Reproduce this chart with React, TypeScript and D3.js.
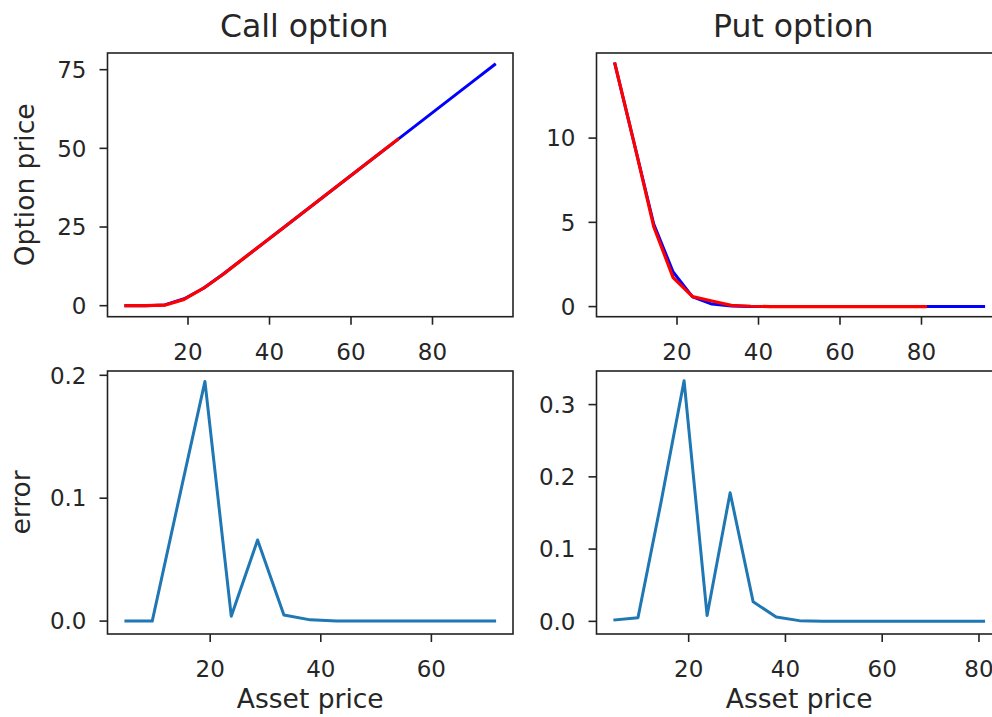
import React, { useEffect, useRef } from "react";
import * as d3 from "d3";

// ---- data ----
const assetPrice = [4.76, 9.52, 14.29, 19.05, 23.81, 28.57, 33.33, 38.1, 42.86, 47.62, 52.38, 57.14, 61.9, 66.67, 71.43, 76.19, 80.95, 85.71, 90.48, 95.24];

const callExact = [0.0, 0.0, 0.25, 2.2, 5.55, 10.0, 14.72, 19.47, 24.22, 28.98, 33.74, 38.5, 43.26, 48.03, 52.79, 57.55, 62.31, 67.07, 71.84, 76.6];
const callApprox = [0.0, 0.0, 0.15, 2.0, 5.55, 9.93, 14.72, 19.47, 24.22, 28.98, 33.74, 38.5, 43.26, 48.03, 52.79];
const callError = [0.0, 0.0, 0.098, 0.195, 0.004, 0.066, 0.005, 0.001, 0.0, 0.0, 0.0, 0.0, 0.0, 0.0, 0.0];

const putExact = [14.4, 9.65, 4.9, 2.05, 0.58, 0.15, 0.04, 0.01, 0.0, 0.0, 0.0, 0.0, 0.0, 0.0, 0.0, 0.0, 0.0, 0.0, 0.0, 0.0];
const putApprox = [14.4, 9.65, 4.74, 1.72, 0.59, 0.33, 0.07, 0.02, 0.0, 0.0, 0.0, 0.0, 0.0, 0.0, 0.0, 0.0, 0.0];
const putError = [0.002, 0.005, 0.165, 0.333, 0.008, 0.178, 0.027, 0.006, 0.001, 0.0, 0.0, 0.0, 0.0, 0.0, 0.0, 0.0, 0.0];

const callPriceTicks = [0, 25, 50, 75];
const putPriceTicks = [0, 5, 10];
const callErrorTicks = [0, 0.1, 0.2];
const putErrorTicks = [0, 0.1, 0.2, 0.3];
const xTicksTop = [20, 40, 60, 80];
const xTicksCallErr = [20, 40, 60];
const xTicksPutErr = [20, 40, 60, 80];

const W = 992;
const H = 717;
const FONT = "DejaVu Sans, sans-serif";
const TEXT = "#262626";
const TICK_FS = 23;
const LABEL_FS = 26.5;
const TITLE_FS = 31.5;

type Series = { y: number[]; color: string; width: number };
type Panel = {
  x0: number; x1: number; y0: number; y1: number;
  xDomain: [number, number]; yDomain: [number, number];
  xTicks: number[]; yTicks: number[]; yFmt: (v: number) => string;
  series: Series[]; title?: string; ylabel?: string; ylabelX?: number; xlabel?: string;
};

const LX0 = 107.5, LX1 = 513, RX0 = 596.5, RX1 = 1002;
const TY0 = 53, TY1 = 316.7, BY0 = 371, BY1 = 634;

const intFmt = (v: number) => d3.format("d")(v);
const decFmt = (v: number) => d3.format(".1f")(v);

const panels: Panel[] = [
  {
    x0: LX0, x1: LX1, y0: TY0, y1: TY1, xDomain: [0.24, 99.76], yDomain: [-3.5, 80.3],
    xTicks: xTicksTop, yTicks: callPriceTicks, yFmt: intFmt,
    series: [
      { y: callExact, color: "#0000ff", width: 3 },
      { y: callApprox, color: "#ff0000", width: 3.2 },
    ],
    title: "Call option", ylabel: "Option price", ylabelX: 34,
  },
  {
    x0: RX0, x1: RX1, y0: TY0, y1: TY1, xDomain: [0.24, 99.76], yDomain: [-0.6, 15.05],
    xTicks: xTicksTop, yTicks: putPriceTicks, yFmt: intFmt,
    series: [
      { y: putExact, color: "#0000ff", width: 3 },
      { y: putApprox, color: "#ff0000", width: 3.2 },
    ],
    title: "Put option",
  },
  {
    x0: LX0, x1: LX1, y0: BY0, y1: BY1, xDomain: [1.43, 74.76], yDomain: [-0.0105, 0.2035],
    xTicks: xTicksCallErr, yTicks: callErrorTicks, yFmt: decFmt,
    series: [{ y: callError, color: "#1f77b4", width: 3 }],
    ylabel: "error", ylabelX: 30, xlabel: "Asset price",
  },
  {
    x0: RX0, x1: RX1, y0: BY0, y1: BY1, xDomain: [0.95, 84.76], yDomain: [-0.0175, 0.3465],
    xTicks: xTicksPutErr, yTicks: putErrorTicks, yFmt: decFmt,
    series: [{ y: putError, color: "#1f77b4", width: 3 }],
    xlabel: "Asset price",
  },
];

export default function App() {
  const ref = useRef<SVGSVGElement | null>(null);

  useEffect(() => {
    const svg = d3.select(ref.current);
    svg.selectAll("*").remove();
    svg.append("rect").attr("width", W).attr("height", H).attr("fill", "#fff");

    panels.forEach((p) => {
      const x = d3.scaleLinear().domain(p.xDomain).range([p.x0, p.x1]);
      const y = d3.scaleLinear().domain(p.yDomain).range([p.y1, p.y0]);
      const g = svg.append("g");

      const clipId = `clip-${p.x0}-${p.y0}`.replace(/\./g, "_");
      g.append("clipPath").attr("id", clipId)
        .append("rect").attr("x", p.x0).attr("y", p.y0)
        .attr("width", p.x1 - p.x0).attr("height", p.y1 - p.y0);

      const lines = g.append("g").attr("clip-path", `url(#${clipId})`);
      p.series.forEach((s) => {
        const pts: [number, number][] = s.y.map((v, i) => [assetPrice[i], v]);
        const line = d3.line<[number, number]>().x((d) => x(d[0])).y((d) => y(d[1]));
        lines.append("path").attr("d", line(pts) as string)
          .attr("fill", "none").attr("stroke", s.color)
          .attr("stroke-width", s.width)
          .attr("stroke-linejoin", "round").attr("stroke-linecap", "square");
      });

      // frame
      g.append("rect").attr("x", p.x0).attr("y", p.y0)
        .attr("width", p.x1 - p.x0).attr("height", p.y1 - p.y0)
        .attr("fill", "none").attr("stroke", "#222").attr("stroke-width", 1.6);

      // y ticks
      p.yTicks.forEach((t) => {
        const yy = y(t);
        g.append("line").attr("x1", p.x0 - 8).attr("x2", p.x0).attr("y1", yy).attr("y2", yy)
          .attr("stroke", "#222").attr("stroke-width", 1.6);
        g.append("text").attr("x", p.x0 - 21).attr("y", yy).attr("dy", "0.36em")
          .attr("text-anchor", "end").attr("font-family", FONT).attr("font-size", TICK_FS)
          .attr("fill", TEXT).text(p.yFmt(t));
      });

      // x ticks
      p.xTicks.forEach((t) => {
        const xx = x(t);
        g.append("line").attr("x1", xx).attr("x2", xx).attr("y1", p.y1).attr("y2", p.y1 + 8)
          .attr("stroke", "#222").attr("stroke-width", 1.6);
        g.append("text").attr("x", xx).attr("y", p.y1 + 43)
          .attr("text-anchor", "middle").attr("font-family", FONT).attr("font-size", TICK_FS)
          .attr("fill", TEXT).text(intFmt(t));
      });

      if (p.title) {
        g.append("text").attr("x", (p.x0 + p.x1) / 2 - 6).attr("y", 37)
          .attr("text-anchor", "middle").attr("font-family", FONT).attr("font-size", TITLE_FS)
          .attr("fill", TEXT).text(p.title);
      }
      if (p.ylabel) {
        const cy = (p.y0 + p.y1) / 2;
        g.append("text").attr("transform", `translate(${p.ylabelX},${cy}) rotate(-90)`)
          .attr("text-anchor", "middle").attr("font-family", FONT).attr("font-size", LABEL_FS)
          .attr("fill", TEXT).text(p.ylabel);
      }
      if (p.xlabel) {
        g.append("text").attr("x", (p.x0 + p.x1) / 2).attr("y", 708)
          .attr("text-anchor", "middle").attr("font-family", FONT).attr("font-size", LABEL_FS)
          .attr("fill", TEXT).text(p.xlabel);
      }
    });
  }, []);

  return (
    <div style={{ position: "fixed", left: 0, top: 0, width: W, height: H, overflow: "hidden", background: "#fff" }}>
      <svg ref={ref} width={W} height={H} style={{ display: "block" }} />
    </div>
  );
}
